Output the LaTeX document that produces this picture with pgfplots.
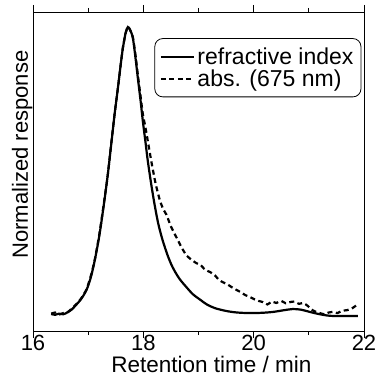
\documentclass[border=0pt]{standalone}
\usepackage{pgfplots}
\pgfplotsset{compat=1.18}
\usepackage{fontspec}
\setmainfont{Liberation Sans}
\begin{document}
\begin{tikzpicture}
\begin{axis}[
  scale only axis, width=331pt, height=319pt,
  xmin=16, xmax=22, ymin=-0.052, ymax=1.052,
  xtick={16,18,20,22}, minor xtick={17,19,21},
  ytick=\empty,
  tick align=outside, major tick length=7pt, minor tick length=4pt,
  axis line style={line width=0.9pt},
  every tick/.style={black, line width=0.9pt},
  /pgf/number format/assume math mode=true,
  xticklabel style={font=\fontsize{22}{22}\selectfont, yshift=6pt},
  xlabel={Retention time / min},
  xlabel style={font=\fontsize{22.5}{22.5}\selectfont, at={(axis description cs:0.539,0)}, anchor=base, yshift=-41pt},
  ylabel={Normalized response},
  ylabel style={font=\fontsize{22}{22}\selectfont, at={(axis description cs:-0.0151,0.553)}, anchor=base},
  legend style={at={(axis description cs:0.992,0.918)}, anchor=north east, draw=black, line width=0.8pt, rounded corners=8pt, font=\fontsize{23}{23}\selectfont, inner xsep=5pt, inner ysep=9pt, row sep=4pt, cells={anchor=west}, nodes={inner xsep=2.5pt, inner ysep=0pt}},
  legend image code/.code={\draw[#1, rounded corners=0pt] (0pt,0pt) -- (33pt,0pt);},
]
\addplot[black, line width=2.2pt, smooth, tension=0.5] coordinates {
(16.33,0.007) (16.40,0.004) (16.47,0.008) (16.55,0.006) (16.62,0.012) (16.70,0.022)
(16.78,0.038) (16.87,0.058) (16.97,0.09) (17.05,0.135) (17.12,0.193) (17.20,0.275)
(17.27,0.366) (17.35,0.48) (17.42,0.597) (17.48,0.70) (17.54,0.79) (17.59,0.87)
(17.63,0.928) (17.68,0.98) (17.72,1.0) (17.76,0.99) (17.81,0.962) (17.86,0.89)
(17.90,0.824) (17.95,0.745) (17.99,0.676) (18.04,0.60) (18.08,0.538) (18.14,0.46)
(18.20,0.39) (18.27,0.32) (18.35,0.262) (18.44,0.21) (18.53,0.169) (18.65,0.13)
(18.78,0.10) (18.90,0.075) (19.04,0.055) (19.15,0.04) (19.30,0.027) (19.51,0.017)
(19.70,0.012) (19.93,0.01) (20.15,0.011) (20.35,0.014) (20.55,0.02) (20.71,0.024)
(20.85,0.022) (20.96,0.017) (21.08,0.011) (21.20,0.006) (21.32,0.002) (21.44,0.0)
(21.65,0.0) (21.89,0.0)
};
\addlegendentry{refractive index}
\addplot[black, line width=2.2pt, dash pattern=on 5pt off 3.5pt, smooth, tension=0.3] coordinates {
(16.33,0.008) (16.40,0.012) (16.47,0.005) (16.55,0.01) (16.62,0.012) (16.70,0.025)
(16.78,0.04) (16.87,0.06) (16.97,0.092) (17.05,0.14) (17.12,0.195) (17.20,0.28)
(17.27,0.37) (17.35,0.48) (17.42,0.60) (17.48,0.70) (17.54,0.79) (17.59,0.87)
(17.63,0.93) (17.68,0.98) (17.72,1.0) (17.76,0.99) (17.81,0.965) (17.86,0.90)
(17.90,0.835) (17.95,0.76) (17.99,0.70) (18.05,0.64) (18.14,0.54) (18.22,0.46)
(18.30,0.40) (18.36,0.37) (18.42,0.35) (18.50,0.31) (18.60,0.272) (18.70,0.235)
(18.78,0.21) (18.87,0.195) (18.96,0.183) (19.04,0.176) (19.12,0.16) (19.21,0.152)
(19.30,0.14) (19.37,0.125) (19.44,0.117) (19.52,0.11) (19.60,0.10) (19.69,0.09)
(19.77,0.082) (19.85,0.072) (19.93,0.066) (20.01,0.058) (20.09,0.052) (20.17,0.048)
(20.25,0.04) (20.33,0.05) (20.41,0.045) (20.50,0.052) (20.58,0.044) (20.66,0.048)
(20.74,0.05) (20.82,0.042) (20.90,0.045) (20.98,0.035) (21.05,0.022) (21.12,0.015)
(21.20,0.01) (21.28,0.006) (21.36,0.012) (21.44,0.014) (21.52,0.01) (21.60,0.018)
(21.69,0.02) (21.78,0.026) (21.87,0.038)
};
\addlegendentry{abs. (675 nm)}
\end{axis}
\pgfresetboundingbox
\path[use as bounding box] (current axis.south west) ++(-33pt,-50pt) rectangle ++(379pt,381pt);
\end{tikzpicture}
\end{document}
